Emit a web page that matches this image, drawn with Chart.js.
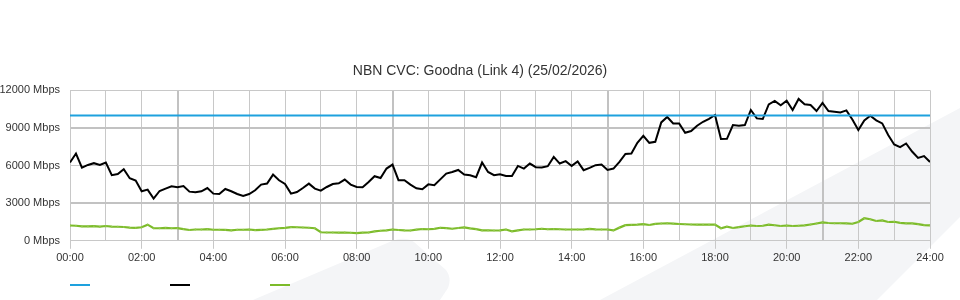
<!DOCTYPE html>
<html>
<head>
<meta charset="utf-8">
<script src="https://cdn.jsdelivr.net/npm/chart.js@4.4.1/dist/chart.umd.min.js"></script>
<style>
  html, body { margin: 0; padding: 0; background: #ffffff; }
  #wrap { position: relative; width: 960px; height: 300px; overflow: hidden; }
  #bg { position: absolute; left: 0; top: 0; }
  #chart { position: absolute; left: 0; top: 0; }
</style>
</head>
<body>
<div id="wrap">
  <svg id="bg" width="960" height="300" viewBox="0 0 960 300">
    <path d="M253,300 L392,241 Q405,236 414,242 L446,270 Q452,278 448,288 L440,300 Z" fill="#f4f5f7"/>
    <path d="M600,300 L960,108 L960,217 L877,300 Z" fill="#f4f5f7"/>
  </svg>
  <canvas id="chart" width="960" height="300"></canvas>
</div>
<script>
// ---- data (10-minute samples, 00:00 to 24:00) ----
const chartTitle = 'NBN CVC: Goodna (Link 4) (25/02/2026)';
const sampleMinutes = 10;
const yTickValues = [0, 3000, 6000, 9000, 12000];
const xTickHours = ['00:00','02:00','04:00','06:00','08:00','10:00','12:00','14:00','16:00','18:00','20:00','22:00','24:00'];

const capacityMinutes = [0, 1440];
const capacityMbps = [10000, 10000];

const downloadMbps = [
  6240, 6960, 5840, 6050, 6190, 6050, 6240, 5230, 5330, 5710, 4990, 4800, 3950, 4080, 3360, 3970,
  4160, 4350, 4270, 4370, 3920, 3870, 3950, 4210, 3760, 3730, 4130, 3950, 3730, 3570, 3730,
  4030, 4480, 4560, 5280, 4830, 4530, 3760, 3890, 4210, 4560, 4160, 4000, 4290, 4530, 4590,
  4880, 4480, 4290, 4270, 4690, 5150, 5010, 5760, 6080, 4830, 4830, 4480, 4190, 4110, 4500,
  4430, 4900, 5360, 5490, 5650, 5280, 5230, 5070, 6240, 5490, 5230, 5310, 5170, 5170, 5970,
  5760, 6160, 5870, 5840, 5950, 6690, 6160, 6350, 5970, 6320, 5630, 5810, 6030, 6080, 5650,
  5760, 6290, 6930, 6960, 7810, 8370, 7810, 7890, 9440, 9870, 9360, 9360, 8610, 8750, 9170,
  9490, 9730, 10030, 8110, 8130, 9230, 9170, 9230, 10430, 9760, 9710, 10880, 11150, 10800, 11170,
  10430, 11310, 10880, 10830, 10350, 10990, 10350, 10290, 10240, 10400, 9680, 8830, 9600, 9970,
  9600, 9360, 8430, 7680, 7470, 7760, 7120, 6610, 6750, 6290
];

const uploadMbps = [
  1220, 1200, 1150, 1150, 1170, 1130, 1180, 1130, 1120, 1100, 1050, 1030, 1080, 1290, 1000, 1000,
  1030, 1000, 1010, 930, 860, 900, 900, 930, 880, 880, 870, 830, 880, 880, 900,
  850, 870, 900, 950, 1000, 1030, 1090, 1080, 1060, 1040, 1000, 680, 660, 660, 650,
  660, 640, 620, 650, 660, 750, 800, 830, 900, 860, 830, 820, 890, 940, 920,
  950, 1040, 1010, 960, 1020, 1070, 990, 930, 830, 830, 820, 830, 900, 760, 830,
  900, 900, 920, 960, 920, 940, 920, 900, 900, 900, 900, 950, 910, 900, 900,
  830, 1050, 1250, 1270, 1290, 1330, 1260, 1350, 1380, 1400, 1370, 1340, 1320, 1300, 1290,
  1290, 1290, 1290, 1000, 1120, 1020, 1090, 1160, 1220, 1180, 1200, 1290, 1240, 1180, 1220,
  1180, 1200, 1230, 1300, 1380, 1470, 1420, 1400, 1400, 1390, 1360, 1500, 1800, 1720,
  1580, 1620, 1500, 1520, 1430, 1390, 1390, 1330, 1250, 1230
];

// ---- build ----
const toPoints = (vals, step) => vals.map((v, i) => ({ x: i * step, y: v }));
const capacityPoints = capacityMbps.map((v, i) => ({ x: capacityMinutes[i], y: v }));

Chart.defaults.font.family = '"Liberation Sans", Arial, Helvetica, sans-serif';
Chart.defaults.font.size = 11;
Chart.defaults.color = '#333333';

const GRID = '#c8c8c8';
const GRID_HEAVY = '#c2c2c2';
const heavyX = (v) => v % 360 === 180;          // 03:00, 09:00, 15:00, 21:00 render heavier
const heavyY = (v) => v === 3000 || v === 9000;

const lineLegend = {
  id: 'lineLegend',
  afterDraw(chart) {
    const { ctx, chartArea } = chart;
    const y = chart.height - 15;
    chart.data.datasets.forEach((ds, i) => {
      const x0 = chartArea.left + i * 100;
      ctx.save();
      ctx.strokeStyle = ds.borderColor;
      ctx.lineWidth = 2;
      ctx.beginPath();
      ctx.moveTo(x0, y);
      ctx.lineTo(x0 + 20, y);
      ctx.stroke();
      ctx.restore();
    });
  }
};

new Chart(document.getElementById('chart'), {
  type: 'line',
  data: {
    datasets: [
      { label: 'Capacity', data: capacityPoints, borderColor: '#1ea1de', borderWidth: 2,
        pointRadius: 0, tension: 0 },
      { label: 'Download', data: toPoints(downloadMbps, sampleMinutes), borderColor: '#000000',
        borderWidth: 2, pointRadius: 0, tension: 0 },
      { label: 'Upload', data: toPoints(uploadMbps, sampleMinutes), borderColor: '#7cbb2a',
        backgroundColor: '#92c94c', borderWidth: 2.2, pointRadius: 0.9, pointBorderWidth: 0, tension: 0 }
    ]
  },
  options: {
    responsive: false,
    animation: false,
    events: [],
    layout: { padding: { top: 53, left: 0, right: 0, bottom: 32 } },
    plugins: {
      legend: { display: false },
      tooltip: { enabled: false },
      title: {
        display: true, text: chartTitle, color: '#333333',
        font: { size: 14, weight: 'normal' }, padding: { top: 10, bottom: 10.5 }
      }
    },
    scales: {
      x: {
        type: 'linear', min: 0, max: 1440,
        afterFit: (s) => { s.paddingRight = 30; },
        grid: {
          color: (c) => (c.tick && heavyX(c.tick.value)) ? GRID_HEAVY : GRID,
          lineWidth: (c) => (c.tick && heavyX(c.tick.value)) ? 2 : 1,
          tickLength: 8,
          tickColor: (c) => (c.tick && c.tick.value % 120 === 0) ? GRID : 'rgba(0,0,0,0)'
        },
        border: { color: GRID },
        ticks: {
          stepSize: 60, autoSkip: false, maxRotation: 0, padding: 3, color: '#333333',
          callback: (v) => (v % 120 === 0) ? xTickHours[v / 120] : ''
        }
      },
      y: {
        min: 0, max: 12000,
        afterBuildTicks: (scale) => { scale.ticks = yTickValues.map(v => ({ value: v })); },
        afterFit: (s) => { s.width = 70; },
        grid: {
          color: (c) => (c.tick && heavyY(c.tick.value)) ? GRID_HEAVY : GRID,
          lineWidth: (c) => (c.tick && heavyY(c.tick.value)) ? 2 : 1,
          drawTicks: false
        },
        border: { color: GRID },
        ticks: { padding: 10, color: '#333333', callback: (v) => v + ' Mbps' }
      }
    }
  },
  plugins: [lineLegend]
});
</script>
</body>
</html>
